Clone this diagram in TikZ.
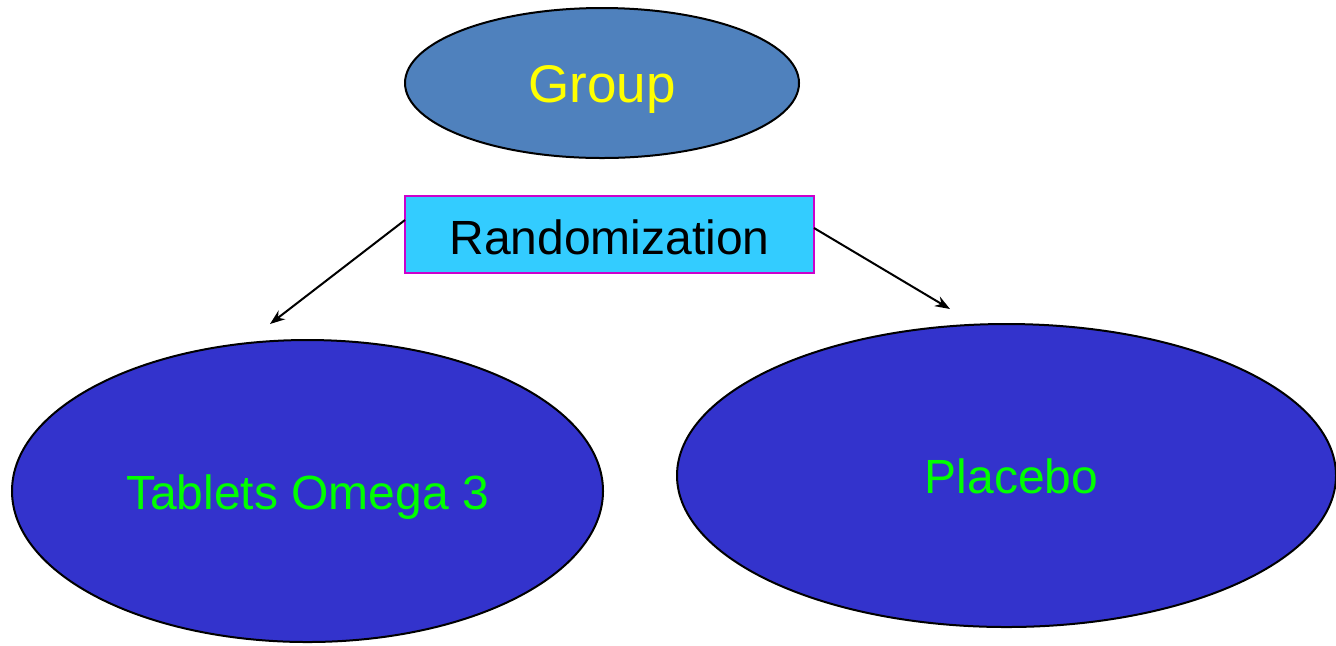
\documentclass[tikz,border=0pt]{standalone}
\usepackage{fontspec}
\setmainfont{Liberation Sans}
\usetikzlibrary{shapes.geometric,arrows.meta}
\definecolor{groupblue}{HTML}{4F81BD}
\definecolor{armblue}{HTML}{3333CC}
\definecolor{randcyan}{HTML}{33CCFF}
\definecolor{randedge}{HTML}{CC00CC}
\definecolor{armgreen}{HTML}{00FF00}
\definecolor{groupyellow}{HTML}{FFFF00}
% text placed with its baseline a given distance below the node centre
\newcommand{\dropped}[2]{\raisebox{-#1}[0pt][0pt]{#2}}
\tikzset{
  oval/.style={ellipse, draw=black, line width=1pt, inner sep=0pt},
  armoval/.style={oval, fill=armblue, text=armgreen, font=\fontsize{24}{29}\selectfont},
  randbox/.style={rectangle, draw=randedge, line width=0.9pt, fill=randcyan,
    inner sep=0pt, font=\fontsize{24}{29}\selectfont},
  link/.style={line width=1pt, -{Stealth[length=7.5pt,width=5.5pt]}}
}
\begin{document}
\begin{tikzpicture}[x=0.5pt,y=-0.5pt]
  \useasboundingbox (0,0) rectangle (1336,645);
  \node[oval, fill=groupblue, text=groupyellow, font=\fontsize{26.5}{32}\selectfont,
        minimum width=197pt, minimum height=75pt] (group) at (602,83) {\dropped{9.5pt}{Group}};
  \node[randbox, minimum width=204.5pt, minimum height=38.5pt] (rand) at (609.5,234.5) {\dropped{9.75pt}{Randomization}};
  \node[armoval, minimum width=295.5pt, minimum height=151pt] (omega) at (307.5,491) {\dropped{9pt}{Tablets Omega 3}};
  \node[armoval, minimum width=329.5pt, minimum height=151.5pt] (placebo) at (1006.5,475.5) {\hspace{5pt}\dropped{8.75pt}{Placebo}};
  % free ends of the two connectors
  \coordinate (lstart) at (405,220);
  \coordinate (lend) at (270,324);
  \coordinate (rstart) at (814,228);
  \coordinate (rend) at (950,309);
  \draw[link] (lstart) -- (lend);
  \draw[link] (rstart) -- (rend);
\end{tikzpicture}
\end{document}
